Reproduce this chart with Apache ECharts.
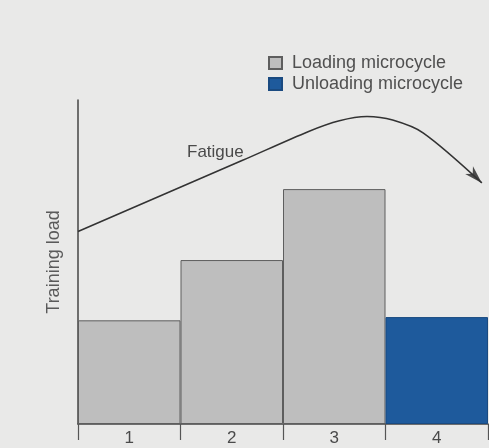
<!DOCTYPE html>
<html><head><meta charset="utf-8">
<script src="https://cdn.jsdelivr.net/npm/echarts@6/dist/echarts.min.js"></script>
<style>html,body{margin:0;padding:0;background:#e9e9e8}#c{width:489px;height:448px}</style>
</head><body><div id="c"></div>
<script>
const categories = ['1', '2', '3', '4'];
const loadingValues = [32, 50.6, 72.5, null];
const unloadingValues = [null, null, null, 33];
const fatigueX = [0, 1.6, 2.25, 2.55, 2.82, 3.07, 3.37, 3.94];
const fatigueY = [59.4, 81.3, 90.3, 93.6, 94.9, 93.8, 89.8, 74.4];
const fatigueData = fatigueX.map((x, i) => [x, fatigueY[i]]);
const arrowPoint = [fatigueData[fatigueData.length - 1]];

const chart = echarts.init(document.getElementById('c'));
chart.setOption({
  backgroundColor: '#e9e9e8',
  animation: false,
  textStyle: { fontFamily: 'Liberation Sans, Arial, sans-serif' },
  legend: {
    orient: 'vertical', left: 268, top: 54, padding: 0, itemWidth: 13, itemHeight: 12, itemGap: 3,
    icon: 'rect',
    textStyle: { fontSize: 18, color: '#505050', padding: [0, 0, 0, 5] },
    data: ['Loading microcycle', 'Unloading microcycle']
  },
  grid: { left: 78, right: 1, top: 100, bottom: 24 },
  xAxis: [{
    type: 'category', data: categories,
    axisLine: { lineStyle: { color: '#444', width: 1.5 } },
    axisTick: { show: true, length: 16, lineStyle: { color: '#555', width: 1.2 } },
    axisLabel: { color: '#4a4a4a', fontSize: 17, margin: 6 }
  }, {
    type: 'value', min: 0, max: 4, show: false
  }],
  yAxis: {
    type: 'value', min: 0, max: 100,
    name: 'Training load', nameLocation: 'middle', nameGap: 15, nameRotate: 90,
    nameTextStyle: { color: '#5a5a5a', fontSize: 18 },
    axisLine: { show: true, lineStyle: { color: '#444', width: 1.5 } },
    axisTick: { show: false }, axisLabel: { show: false }, splitLine: { show: false }
  },
  series: [{
    name: 'Loading microcycle', type: 'bar', stack: 's', data: loadingValues,
    barCategoryGap: '0%',
    itemStyle: { color: '#bebebe', borderColor: '#5e5e5e', borderWidth: 1 }
  }, {
    name: 'Unloading microcycle', type: 'bar', stack: 's', data: unloadingValues,
    barCategoryGap: '0%',
    itemStyle: { color: '#1e5a9c', borderColor: '#1a4a80', borderWidth: 1 }
  }, {
    name: 'Fatigue', type: 'line', xAxisIndex: 1, data: fatigueData, smooth: 0.3,
    symbol: 'none', lineStyle: { color: '#333', width: 1.6 }
  }, {
    name: 'arrow', type: 'scatter', xAxisIndex: 1, data: arrowPoint,
    symbol: 'path://M0,0 L5,14 L0,10 L-5,14 Z', symbolSize: [11, 18], symbolRotate: -135,
    symbolOffset: [-6.4, -6.4],
    itemStyle: { color: '#222' }, silent: true
  }],
  graphic: [{
    type: 'text', left: 187, top: 144,
    style: { text: 'Fatigue', fill: '#4a4a4a', font: '17px Liberation Sans, Arial, sans-serif' }
  }]
});
</script>
</body></html>
